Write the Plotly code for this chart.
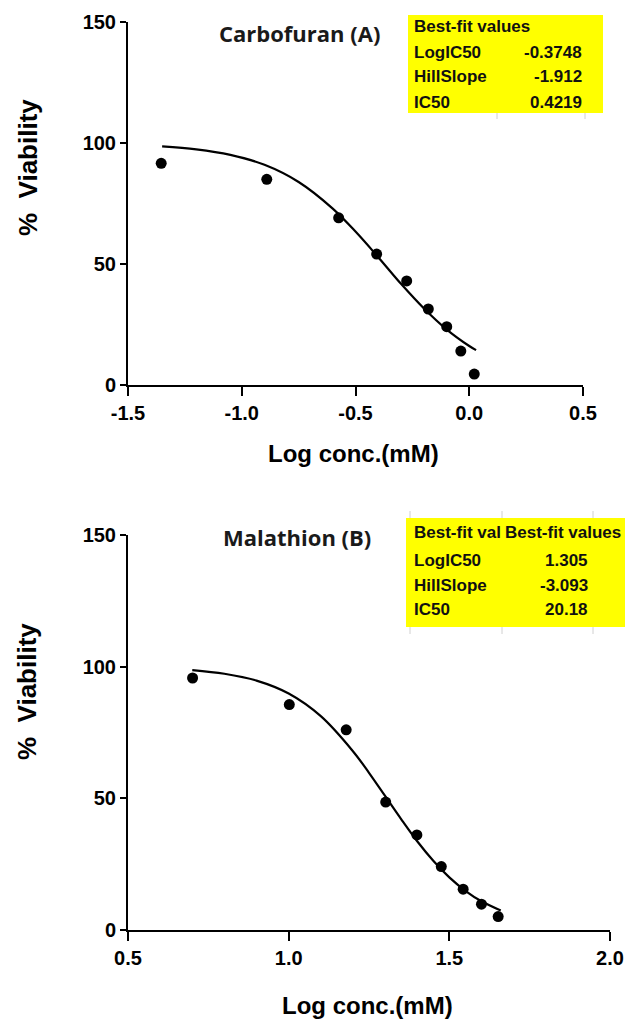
import plotly.graph_objects as go

# ---------------- data ----------------
carbo_logc = [-1.354, -0.890, -0.574, -0.407, -0.275, -0.180, -0.099, -0.037, 0.022]
carbo_viab = [91.6, 85.0, 69.1, 54.1, 43.0, 31.4, 24.1, 14.0, 4.5]
carbo_fit_x = [-1.35, -1.2, -1.05, -0.9, -0.75, -0.6, -0.5, -0.4, -0.3, -0.2, -0.1, 0.0, 0.03]
carbo_fit_y = [98.6, 97.4, 95.1, 91.0, 83.9, 72.9, 63.4, 52.8, 41.8, 31.7, 23.0, 16.1, 14.4]

mala_logc = [0.701, 1.002, 1.179, 1.302, 1.399, 1.475, 1.543, 1.600, 1.652]
mala_viab = [95.7, 85.6, 76.0, 48.6, 36.1, 24.1, 15.5, 9.8, 5.1]
mala_fit_x = [0.70, 0.80, 0.90, 1.00, 1.10, 1.20, 1.25, 1.30, 1.35, 1.40, 1.45, 1.50, 1.55, 1.60, 1.66]
mala_fit_y = [98.7, 97.3, 94.7, 89.8, 81.2, 67.9, 59.7, 50.9, 42.1, 33.7, 26.3, 20.0, 14.9, 10.9, 7.4]

carbo_ticks = [-1.5, -1.0, -0.5, 0.0, 0.5]
carbo_ticklabels = ["-1.5", "-1.0", "-0.5", "0.0", "0.5"]
mala_ticks = [0.5, 1.0, 1.5, 2.0]
mala_ticklabels = ["0.5", "1.0", "1.5", "2.0"]
y_ticks = [0, 50, 100, 150]
y_ticklabels = ["0", "50", "100", "150"]

table_a_labels = ["LogIC50", "HillSlope", "IC50"]
table_a_values = ["-0.3748", "-1.912", "0.4219"]
table_b_labels = ["LogIC50", "HillSlope", "IC50"]
table_b_values = ["1.305", "-3.093", "20.18"]

# ---------------- layout helpers ----------------
W, H = 625, 1023
ML, MR, MT, MB = 128, 15, 22, 93
PW = W - ML - MR
PH = H - MT - MB


def px(x):
    return (x - ML) / PW


def py(y):
    return (H - MB - y) / PH


ARIAL = "Liberation Sans, Arial, sans-serif"

fig = go.Figure()

# Top panel
fig.add_trace(go.Scatter(x=carbo_fit_x, y=carbo_fit_y, mode="lines",
                         line=dict(color="black", width=2.2, shape="spline"),
                         xaxis="x", yaxis="y", showlegend=False))
fig.add_trace(go.Scatter(x=carbo_logc, y=carbo_viab, mode="markers",
                         marker=dict(color="black", size=11),
                         xaxis="x", yaxis="y", showlegend=False, cliponaxis=False))
# Bottom panel
fig.add_trace(go.Scatter(x=mala_fit_x, y=mala_fit_y, mode="lines",
                         line=dict(color="black", width=2.2, shape="spline"),
                         xaxis="x2", yaxis="y2", showlegend=False))
fig.add_trace(go.Scatter(x=mala_logc, y=mala_viab, mode="markers",
                         marker=dict(color="black", size=11),
                         xaxis="x2", yaxis="y2", showlegend=False, cliponaxis=False))

tickfont = dict(family=ARIAL, size=20, color="black", weight="bold")
xcommon = dict(showline=True, linecolor="black", linewidth=2, ticks="outside",
               ticklen=9, tickwidth=2, tickcolor="black", showgrid=False,
               zeroline=False, tickfont=tickfont, fixedrange=True, automargin=False)
ycommon = dict(showline=True, linecolor="black", linewidth=2, ticks="outside",
               ticklen=6, tickwidth=2, tickcolor="black", showgrid=False,
               zeroline=False, tickfont=tickfont, range=[0, 150],
               tickvals=y_ticks, ticktext=y_ticklabels, fixedrange=True, automargin=False)

fig.update_layout(
    width=W, height=H,
    margin=dict(l=ML, r=MR, t=MT, b=MB, autoexpand=False),
    paper_bgcolor="white", plot_bgcolor="white",
    xaxis=dict(xcommon, domain=[0, px(583)], anchor="y", range=[-1.5, 0.5],
               tickvals=carbo_ticks, ticktext=carbo_ticklabels),
    yaxis=dict(ycommon, domain=[py(385), 1], anchor="x"),
    xaxis2=dict(xcommon, domain=[0, 1], anchor="y2", range=[0.5, 2.0],
                tickvals=mala_ticks, ticktext=mala_ticklabels),
    yaxis2=dict(ycommon, domain=[0, py(535)], anchor="x2"),
)

ann = []
shapes = []

# Axis titles
axis_title_font = dict(family=ARIAL, size=24, color="black", weight="bold")
ytitle_font = dict(family=ARIAL, size=26, color="black", weight="bold")
ann.append(dict(text="Log conc.(mM)", x=px(353), y=py(453), xref="paper", yref="paper",
                showarrow=False, xanchor="center", yanchor="middle", font=axis_title_font))
ann.append(dict(text="Log conc.(mM)", x=px(367), y=py(1005), xref="paper", yref="paper",
                showarrow=False, xanchor="center", yanchor="middle", font=axis_title_font))
ann.append(dict(text="%  Viability", x=px(28), y=py(168), xref="paper", yref="paper",
                showarrow=False, xanchor="center", yanchor="middle", textangle=-90,
                font=ytitle_font))
ann.append(dict(text="%  Viability", x=px(27), y=py(692), xref="paper", yref="paper",
                showarrow=False, xanchor="center", yanchor="middle", textangle=-90,
                font=ytitle_font))

# Panel titles
title_font = dict(family="Open Sans, sans-serif", size=22, color="#1a1a1a", weight=700)
ann.append(dict(text="Carbofuran (A)", x=px(299), y=py(33), xref="paper", yref="paper",
                showarrow=False, xanchor="center", yanchor="middle", font=title_font))
ann.append(dict(text="Malathion (B)", x=px(297), y=py(537), xref="paper", yref="paper",
                showarrow=False, xanchor="center", yanchor="middle", font=title_font))

# Tables
tfont = dict(family=ARIAL, size=17, color="#111111", weight="bold")
YEL = "#ffff00"
GRID = "#d0d0d0"

# Table A
shapes.append(dict(type="rect", xref="paper", yref="paper", x0=px(408), x1=px(603),
                   y0=py(113), y1=py(15), fillcolor=YEL, line=dict(width=0), layer="below"))
for gx in [497, 585]:
    shapes.append(dict(type="line", xref="paper", yref="paper", x0=px(gx), x1=px(gx),
                       y0=py(119), y1=py(113), line=dict(color=GRID, width=1)))
ann.append(dict(text="Best-fit values", x=px(412), y=py(27), xref="paper", yref="paper",
                showarrow=False, xanchor="left", yanchor="middle", font=tfont))
for i, (lab, val) in enumerate(zip(table_a_labels, table_a_values)):
    yy = 52 + 25 * i
    ann.append(dict(text=lab, x=px(412), y=py(yy), xref="paper", yref="paper",
                    showarrow=False, xanchor="left", yanchor="middle", font=tfont))
    ann.append(dict(text=val, x=px(584), y=py(yy), xref="paper", yref="paper",
                    showarrow=False, xanchor="right", yanchor="middle", font=tfont))

# Table B
shapes.append(dict(type="rect", xref="paper", yref="paper", x0=px(406), x1=px(630),
                   y0=py(627), y1=py(518), fillcolor=YEL, line=dict(width=0), layer="below"))
for gx in [410, 502, 593]:
    shapes.append(dict(type="line", xref="paper", yref="paper", x0=px(gx), x1=px(gx),
                       y0=py(518), y1=py(511), line=dict(color=GRID, width=1)))
    shapes.append(dict(type="line", xref="paper", yref="paper", x0=px(gx), x1=px(gx),
                       y0=py(634), y1=py(627), line=dict(color=GRID, width=1)))
ann.append(dict(text="Best-fit val", x=px(412), y=py(532), xref="paper", yref="paper",
                showarrow=False, xanchor="left", yanchor="middle", font=tfont))
ann.append(dict(text="Best-fit values", x=px(503), y=py(532), xref="paper", yref="paper",
                showarrow=False, xanchor="left", yanchor="middle", font=tfont))
for i, (lab, val) in enumerate(zip(table_b_labels, table_b_values)):
    yy = 560 + 25 * i
    ann.append(dict(text=lab, x=px(412), y=py(yy), xref="paper", yref="paper",
                    showarrow=False, xanchor="left", yanchor="middle", font=tfont))
    ann.append(dict(text=val, x=px(590), y=py(yy), xref="paper", yref="paper",
                    showarrow=False, xanchor="right", yanchor="middle", font=tfont))

fig.update_layout(annotations=ann, shapes=shapes)

fig.write_html("out.html",
               config={"displayModeBar": False, "staticPlot": True},
               post_script="document.body.style.margin='0px';"
                           "document.body.style.padding='0px';"
                           "document.body.style.overflow='hidden';")
